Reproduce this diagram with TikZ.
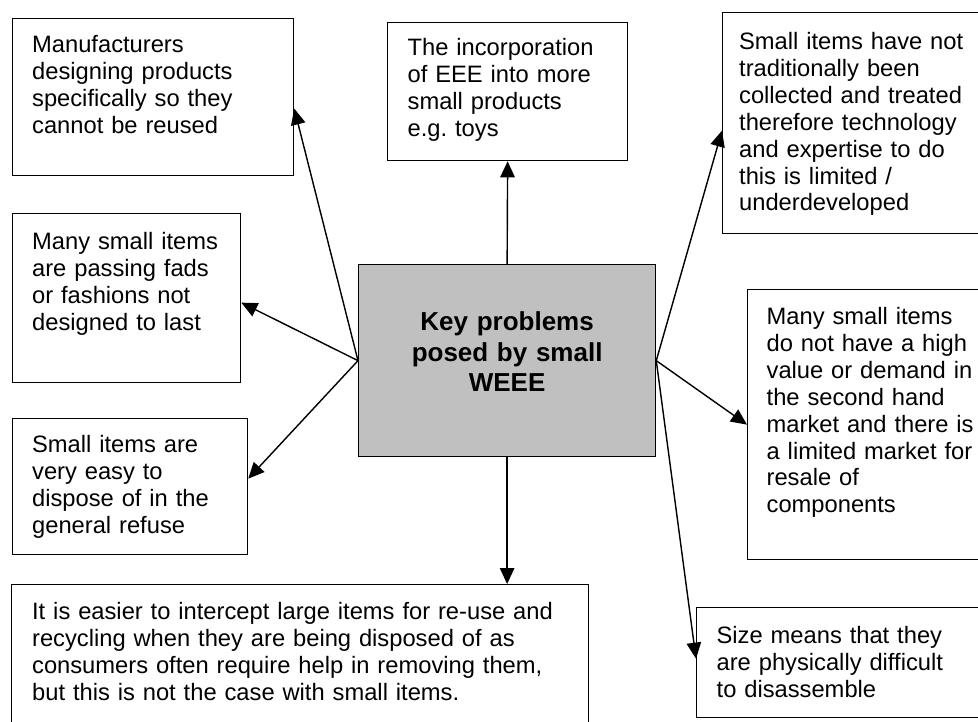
\documentclass[tikz,border=0pt]{standalone}
\usepackage{fontspec}
\setmainfont{Liberation Sans}
\usetikzlibrary{arrows.meta}
\definecolor{keygrey}{RGB}{192,192,192}
\tikzset{
	problem/.style={draw,line width=0.75pt,anchor=north west,align=left,inner ysep=0pt,font=\fontsize{13.5}{15.3}\selectfont},
	link/.style={line width=0.8pt,-{Triangle[length=0.32cm,width=0.29cm]}}
}
\begin{document}
\begin{tikzpicture}[x=0.02cm,y=-0.02cm]
	\useasboundingbox (0,0) rectangle (978,721);
	\clip (0,0) rectangle (978,721);
	\node[problem,fill=keygrey,align=center,inner xsep=0.47cm,text width=5cm,text height=1.32cm,text depth=2.52cm,font=\fontsize{14.8}{17.4}\selectfont\bfseries] (key) at (358,264) {Key problems\\posed by small\\WEEE};
	\node[problem,inner xsep=0.39cm,text width=4.84cm,text height=0.68cm,text depth=2.46cm] (mfr) at (12,18) {Manufacturers\\designing products\\specifically so they\\cannot be reused};
	\node[problem,inner xsep=0.40cm,text width=4cm,text height=0.66cm,text depth=2.10cm] (toys) at (387,22) {The incorporation\\of EEE into more\\small products\\e.g.\ toys};
	\node[problem,inner xsep=0.33cm,text width=4.7cm,text height=0.74cm,text depth=3.68cm] (expert) at (722,12) {Small items have not\\traditionally been\\collected and treated\\therefore technology\\and expertise to do\\this is limited /\\underdeveloped};
	\node[problem,inner xsep=0.39cm,text width=3.78cm,text height=0.72cm,text depth=2.66cm] (fads) at (12,213) {Many small items\\are passing fads\\or fashions not\\designed to last};
	\node[problem,inner xsep=0.39cm,text width=3.92cm,text height=0.68cm,text depth=2.04cm] (refuse) at (12,418) {Small items are\\very easy to\\dispose of in the\\general refuse};
	\node[problem,inner xsep=0.38cm,text width=4.28cm,text height=0.70cm,text depth=4.70cm] (resale) at (747,289) {Many small items\\do not have a high\\value or demand in\\the second hand\\market and there is\\a limited market for\\resale of\\components};
	\node[problem,inner xsep=0.40cm,text width=5.2cm,text height=0.72cm,text depth=1.48cm] (size) at (696,607) {Size means that they\\are physically difficult\\to disassemble};
	\node[problem,inner xsep=0.41cm,text width=10.72cm,text height=0.70cm,text depth=2.42cm] (intercept) at (11,584) {It is easier to intercept large items for re-use and\\recycling when they are being disposed of as\\consumers often require help in removing them,\\but this is not the case with small items.};
	\draw[link] (key.north) -- (toys.south);
	\draw[link] (key.south) -- (key.south |- intercept.north);
	\draw[link] (key.west) -- ([yshift=-0.23cm]mfr.east);
	\draw[link] (key.west) -- ([yshift=-0.09cm]fads.east);
	\draw[link] (key.west) -- ([yshift=0.16cm]refuse.east);
	\draw[link] (key.east) -- ([yshift=-0.15cm]expert.west);
	\draw[link] (key.east) -- (resale.west);
	\draw[link] (key.east) -- ([yshift=0.08cm]size.west);
\end{tikzpicture}
\end{document}
